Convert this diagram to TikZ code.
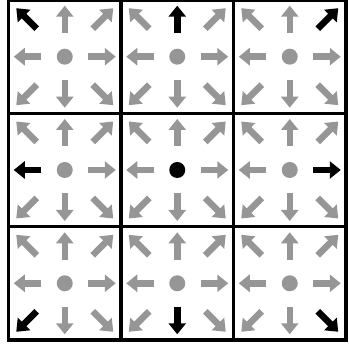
\documentclass[tikz,border=0pt]{standalone}
\usetikzlibrary{arrows.meta}
\definecolor{arrowgray}{RGB}{150,150,150}
\tikzset{
  gridline/.style={line width=3.5pt, draw=black, line cap=rect},
  dirarrow/.style={line width=6.5pt, -{Triangle[width=17pt,length=11pt]}},
}
\begin{document}
\begin{tikzpicture}[x=1pt,y=1pt]
\useasboundingbox (0,0) rectangle (349,345);
% grid
\foreach \gx in {8.5,121,233.5,346}{
  \draw[gridline] (\gx,345) -- (\gx,5);
}
\foreach \gy in {345,231.7,118.3,5}{
  \draw[gridline] (8.5,\gy) -- (346,\gy);
}
% cells
\foreach \ci in {0,1,2}{
  \foreach \rj in {0,1,2}{
    \coordinate (c\ci\rj) at ({64.75+112.5*\ci},{345-(56.7+113.3*\rj)});
    \pgfmathtruncatemacro\cb{and(\ci==1,\rj==1)}
    \ifnum\cb=1 \def\dcol{black}\else\def\dcol{arrowgray}\fi
    \fill[\dcol] (c\ci\rj) circle (8pt);
    \foreach \sx/\sy in {-1/-1,0/-1,1/-1,-1/0,1/0,-1/1,0/1,1/1}{
      \pgfmathtruncatemacro\isb{and(\sx==\ci-1,\sy==\rj-1)}
      \ifnum\isb=1 \def\acol{black}\else\def\acol{arrowgray}\fi
      \pgfmathsetmacro\rin{(\sx*\sy==0) ? 23.5 : 28}
      \pgfmathsetmacro\rout{(\sx*\sy==0) ? 51 : 48.5}
      \pgfmathsetmacro\ax{\rin*\sx}
      \pgfmathsetmacro\ay{-\rin*\sy}
      \pgfmathsetmacro\bx{\rout*\sx}
      \pgfmathsetmacro\by{-\rout*\sy}
      \draw[dirarrow, draw=\acol] ([shift={(\ax,\ay)}]c\ci\rj) -- ([shift={(\bx,\by)}]c\ci\rj);
    }
  }
}
\end{tikzpicture}
\end{document}
